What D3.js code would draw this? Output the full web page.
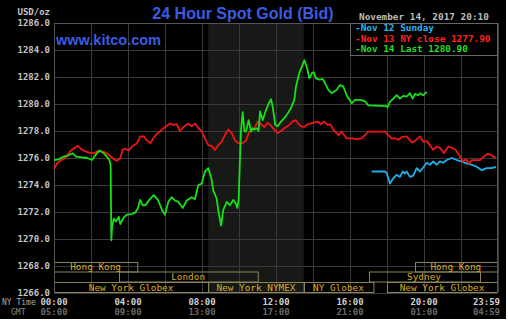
<!DOCTYPE html>
<html>
<head>
<meta charset="utf-8">
<script src="https://cdn.jsdelivr.net/npm/d3@7"></script>
<style>
  html, body { margin: 0; padding: 0; background: #ffffff; }
  svg { display: block; }
</style>
</head>
<body>
<svg id="chart" width="508" height="325"></svg>
<script>
// ---- data: [hour of NY day, price USD/oz] ----
const nov12Sunday = [
  [17.17,1275.0],[17.89,1275.0],[17.98,1274.9],[18.16,1274.1],[18.34,1274.5],[18.52,1274.75],
  [18.70,1274.6],[18.85,1275.0],[18.97,1274.85],[19.06,1275.0],[19.24,1274.6],[19.42,1274.7],
  [19.60,1275.25],[19.78,1275.0],[19.96,1275.3],[20.15,1275.65],[20.32,1275.5],[20.50,1275.75],
  [20.69,1275.5],[20.86,1275.75],[21.04,1275.65],[21.23,1275.85],[21.50,1276.0],[21.77,1275.85],
  [22.04,1275.75],[22.31,1275.6],[22.58,1275.5],[22.85,1275.35],[23.12,1275.1],[23.39,1275.25],
  [23.66,1275.25],[23.89,1275.35]
];

const nov13Close = [
  [0.00,1275.15],[0.16,1275.6],[0.34,1275.8],[0.61,1276.0],[0.88,1276.5],[1.06,1276.7],
  [1.30,1276.9],[1.51,1276.6],[1.88,1276.4],[2.15,1276.35],[2.42,1276.55],[2.69,1276.45],
  [2.86,1276.35],[3.04,1276.15],[3.23,1275.9],[3.41,1275.8],[3.58,1276.0],[3.71,1276.6],
  [3.85,1276.7],[4.04,1276.55],[4.22,1276.85],[4.49,1277.1],[4.66,1277.6],[4.85,1277.6],
  [5.03,1277.3],[5.21,1277.1],[5.39,1277.5],[5.57,1277.8],[5.84,1278.1],[6.00,1278.3],
  [6.27,1278.55],[6.45,1278.45],[6.63,1278.5],[6.81,1278.0],[6.99,1278.3],[7.26,1278.55],
  [7.44,1278.35],[7.62,1278.55],[7.80,1278.2],[7.98,1278.0],[8.16,1277.45],[8.34,1276.95],
  [8.52,1276.9],[8.70,1276.6],[8.88,1276.95],[9.06,1277.2],[9.24,1277.7],[9.42,1278.1],
  [9.61,1277.85],[9.78,1277.3],[9.96,1277.1],[10.20,1277.1],[10.38,1277.3],[10.56,1277.95],
  [10.83,1278.2],[11.01,1278.7],[11.19,1278.5],[11.37,1278.3],[11.55,1278.6],[11.73,1278.4],
  [11.91,1278.1],[12.09,1277.85],[12.27,1278.0],[12.45,1278.2],[12.72,1278.45],[12.90,1278.7],
  [13.08,1278.8],[13.17,1278.6],[13.35,1278.35],[13.53,1278.3],[13.71,1278.5],[13.98,1278.6],
  [14.25,1278.7],[14.43,1278.5],[14.60,1278.7],[14.78,1278.45],[14.93,1278.5],[15.10,1278.1],
  [15.37,1277.7],[15.55,1277.95],[15.68,1277.7],[15.82,1277.45],[16.09,1277.45],[16.36,1277.4],
  [16.63,1277.45],[16.81,1277.7],[16.99,1277.95],[17.89,1277.95],[18.07,1277.7],[18.25,1277.45],
  [18.43,1277.45],[18.61,1277.35],[18.79,1277.55],[19.06,1277.6],[19.34,1277.15],[19.51,1277.25],
  [19.78,1277.6],[19.96,1277.2],[20.15,1277.25],[20.32,1276.95],[20.50,1276.6],[20.69,1276.85],
  [20.86,1276.75],[21.08,1276.35],[21.31,1276.85],[21.50,1276.75],[21.68,1276.65],[21.91,1276.2],
  [22.09,1275.75],[22.27,1275.9],[22.45,1275.6],[22.58,1275.85],[22.76,1275.85],[23.03,1275.85],
  [23.24,1276.1],[23.42,1276.3],[23.60,1276.25],[23.75,1276.1],[23.89,1276.0]
];

const nov14Last = [
  [0.00,1275.85],[0.25,1275.9],[0.52,1276.1],[0.79,1276.2],[1.01,1276.35],[1.19,1276.1],
  [1.51,1276.05],[1.78,1276.0],[2.05,1275.85],[2.23,1276.2],[2.45,1276.55],[2.69,1276.35],
  [2.86,1276.1],[2.99,1275.85],[3.06,1275.5],[3.10,1269.9],[3.14,1270.9],[3.23,1271.5],
  [3.35,1271.3],[3.50,1271.65],[3.58,1271.1],[3.77,1271.6],[3.95,1271.8],[4.22,1271.85],
  [4.39,1271.95],[4.54,1272.3],[4.66,1272.9],[4.79,1272.5],[4.94,1272.5],[5.15,1272.9],
  [5.39,1273.25],[5.62,1272.9],[5.84,1272.15],[5.91,1272.0],[6.00,1271.8],[6.18,1272.75],
  [6.36,1273.1],[6.54,1272.85],[6.72,1272.75],[6.96,1272.3],[7.17,1272.85],[7.44,1273.1],
  [7.62,1272.95],[7.80,1274.0],[7.98,1274.1],[8.16,1275.0],[8.34,1275.25],[8.52,1274.4],
  [8.61,1273.6],[8.79,1273.0],[8.88,1272.15],[9.03,1271.0],[9.15,1272.15],[9.34,1272.75],
  [9.51,1272.5],[9.69,1272.9],[9.84,1272.6],[9.91,1272.3],[9.98,1272.9],[10.05,1275.85],
  [10.11,1278.1],[10.20,1279.4],[10.29,1278.0],[10.38,1277.95],[10.52,1278.8],[10.65,1277.95],
  [10.74,1278.2],[10.83,1278.1],[10.96,1278.2],[11.06,1278.0],[11.14,1279.45],[11.28,1278.8],
  [11.46,1279.55],[11.61,1280.05],[11.73,1280.35],[11.82,1279.8],[11.96,1278.45],[12.09,1278.35],
  [12.27,1278.7],[12.45,1278.95],[12.63,1279.3],[12.81,1279.7],[12.99,1280.3],[13.08,1281.3],
  [13.26,1282.3],[13.41,1282.8],[13.53,1283.25],[13.62,1282.9],[13.71,1282.5],[13.80,1281.9],
  [13.95,1282.3],[14.04,1282.35],[14.16,1281.9],[14.34,1281.8],[14.52,1281.85],[14.65,1281.55],
  [14.83,1281.05],[15.01,1280.8],[15.28,1281.05],[15.46,1281.4],[15.64,1281.3],[15.82,1280.65],
  [16.09,1280.05],[16.27,1280.3],[16.54,1280.3],[16.81,1280.2],[16.99,1279.9],[17.98,1279.85],
  [18.03,1279.75],[18.16,1280.15],[18.34,1280.4],[18.52,1280.65],[18.70,1280.4],[18.88,1280.6],
  [19.06,1280.55],[19.24,1280.8],[19.39,1280.4],[19.51,1280.75],[19.69,1280.65],[19.78,1280.8],
  [19.96,1280.65],[20.15,1280.9]
];

const priceTicks = [1266,1268,1270,1272,1274,1276,1278,1280,1282,1284,1286];
const hourTicks = [0,4,8,12,16,20,23.983];
const nyTimeLabels = ["00:00","04:00","08:00","12:00","16:00","20:00","23:59"];
const gmtLabels = ["05:00","09:00","13:00","17:00","21:00","01:00","04:59"];

const legendLabels = ["Nov 12 Sunday","Nov 13 NY close 1277.90","Nov 14 Last 1280.90"];

// trading sessions: name, start hour, end hour, row (0 = top)
const sessionNames  = ["Hong Kong","London","New York Globex","New York NYMEX","NY Globex","New York Globex","Sydney","Hong Kong"];
const sessionStarts = [0, 3.5, 0, 8.333, 13.5, 18, 17, 19.5];
const sessionEnds   = [4.5, 11, 8.333, 13.5, 17.25, 24, 23, 24];
const sessionRows   = [0, 1, 2, 2, 2, 2, 1, 0];

// COMEX floor hours, shaded
const comexOpen = 8.333, comexClose = 13.5;

// ---- layout ----
const svg = d3.select("#chart");
const plotLeft = 54, plotRight = 498, plotTop = 23, plotBottom = 293;
const mono = "'DejaVu Sans Mono', monospace";

const x = d3.scaleLinear().domain([0, 24]).range([plotLeft, plotRight]);
const y = d3.scaleLinear().domain([1266, 1286]).range([plotBottom, plotTop]);

svg.append("rect").attr("x", 0).attr("y", 0).attr("width", 506).attr("height", 319).attr("fill", "#000");

// shaded COMEX band
svg.append("rect")
  .attr("x", x(comexOpen)).attr("y", plotTop)
  .attr("width", x(comexClose) - x(comexOpen)).attr("height", plotBottom - plotTop)
  .attr("fill", "#171917");

// grid
const grid = svg.append("g").attr("stroke", "#3a3a3a").attr("stroke-width", 1);
grid.selectAll("line.v").data(d3.range(0, 25, 2)).join("line").attr("class", "v")
  .attr("x1", d => Math.round(x(d)) + 0.5).attr("x2", d => Math.round(x(d)) + 0.5)
  .attr("y1", plotTop).attr("y2", plotBottom);
grid.selectAll("line.h").data(priceTicks).join("line").attr("class", "h")
  .attr("x1", plotLeft).attr("x2", plotRight - 1)
  .attr("y1", d => Math.round(y(d)) + 0.5).attr("y2", d => Math.round(y(d)) + 0.5);

// price axis
const yAxis = svg.append("g")
  .attr("transform", `translate(${plotLeft},0)`)
  .call(d3.axisLeft(y).tickValues(priceTicks).tickFormat(d3.format(".1f")).tickSize(0).tickPadding(4));
yAxis.select(".domain").remove();
yAxis.selectAll("text")
  .attr("fill", "#c4c4c4").attr("font-family", mono).attr("font-weight", "bold")
  .attr("font-size", "9px").attr("dy", "0.28em");

svg.append("text").attr("x", 50).attr("y", 15).attr("text-anchor", "end")
  .attr("fill", "#c4c4c4").attr("font-family", mono).attr("font-weight", "bold")
  .attr("font-size", "9px").text("USD/oz");

// session boxes
const rowTop = [262.5, 272, 282.5];
const rowH = [9.5, 10, 10];
const sessions = sessionNames.map((n, i) => ({ name: n, s: sessionStarts[i], e: sessionEnds[i], r: sessionRows[i] }));
const sg = svg.append("g");
sg.selectAll("rect").data(sessions).join("rect")
  .attr("x", d => Math.round(x(d.s)) + 0.5)
  .attr("y", d => rowTop[d.r])
  .attr("width", d => Math.min(x(d.e), plotRight - 1) - x(d.s))
  .attr("height", d => rowH[d.r])
  .attr("fill", "none").attr("stroke", "#8a8458").attr("stroke-width", 1);
sg.selectAll("text").data(sessions).join("text")
  .attr("x", d => (x(d.s) + Math.min(x(d.e), plotRight - 1)) / 2)
  .attr("y", d => rowTop[d.r] + rowH[d.r] - 1.8)
  .attr("text-anchor", "middle")
  .attr("fill", "#d9ad2a").attr("font-family", mono).attr("font-size", "9.4px")
  .text(d => d.name);

// plot frame
svg.append("line").attr("x1", plotLeft + 0.5).attr("x2", plotLeft + 0.5).attr("y1", plotTop).attr("y2", plotBottom)
  .attr("stroke", "#555");
svg.append("line").attr("x1", plotLeft).attr("x2", plotRight).attr("y1", plotTop + 0.5).attr("y2", plotTop + 0.5)
  .attr("stroke", "#555");
svg.append("line").attr("x1", plotRight - 0.5).attr("x2", plotRight - 0.5).attr("y1", plotTop).attr("y2", plotBottom)
  .attr("stroke", "#555");

// price lines
const line = d3.line().x(d => x(d[0])).y(d => y(d[1]));
const seriesColors = ["#1fb0e6", "#f01414", "#16e016"];
[nov12Sunday, nov13Close, nov14Last].forEach((s, i) => {
  svg.append("path").datum(s).attr("d", line)
    .attr("fill", "none").attr("stroke", seriesColors[i]).attr("stroke-width", 1.8)
    .attr("stroke-linejoin", "round");
});

// legend
const lg = svg.append("g");
lg.append("rect").attr("x", 350.5).attr("y", plotTop + 0.5).attr("width", plotRight - 351).attr("height", 32)
  .attr("fill", "#000").attr("stroke", "#666");
const legendColors = ["#28b4ec", "#ff2020", "#22dd22"];
legendLabels.forEach((t, i) => {
  lg.append("text").attr("x", 355).attr("y", 31.3 + i * 10.3)
    .attr("fill", legendColors[i]).attr("font-family", mono).attr("font-weight", "bold")
    .attr("font-size", "9.4px").text("-" + t);
});

svg.append("text").attr("x", 359).attr("y", 20).attr("fill", "#bcbcbc")
  .attr("font-family", mono).attr("font-weight", "bold").attr("font-size", "9.4px")
  .text("November 14, 2017 20:10");

// titles
svg.append("text").attr("x", 243).attr("y", 19).attr("text-anchor", "middle")
  .attr("fill", "#3b5be0").attr("font-family", "'Liberation Sans', Arial, sans-serif")
  .attr("font-weight", "bold").attr("font-size", "16px").text("24 Hour Spot Gold (Bid)");
svg.append("text").attr("x", 56).attr("y", 45)
  .attr("fill", "#3b5be0").attr("font-family", "'Liberation Sans', Arial, sans-serif")
  .attr("font-weight", "bold").attr("font-size", "14.5px").text("www.kitco.com");

// time axis (NY and GMT)
const timeRows = [
  { labels: nyTimeLabels, yPos: 304.5, color: "#cfcfcf" },
  { labels: gmtLabels, yPos: 314.5, color: "#6a6a6a" }
];
timeRows.forEach(row => {
  svg.append("g").selectAll("text").data(hourTicks).join("text")
    .attr("x", (d, i) => i === hourTicks.length - 1 ? 500 : x(d))
    .attr("y", row.yPos)
    .attr("text-anchor", (d, i) => i === hourTicks.length - 1 ? "end" : "middle")
    .attr("fill", row.color).attr("font-family", mono).attr("font-weight", "bold")
    .attr("font-size", "9px")
    .text((d, i) => row.labels[i]);
});
svg.append("text").attr("x", 2).attr("y", 304.5).attr("fill", "#aaaaaa")
  .attr("font-family", mono).attr("font-size", "8px").text("NY Time");
svg.append("text").attr("x", 11).attr("y", 314.5).attr("fill", "#8a8a8a")
  .attr("font-family", mono).attr("font-size", "8px").text("GMT");
</script>
</body>
</html>
